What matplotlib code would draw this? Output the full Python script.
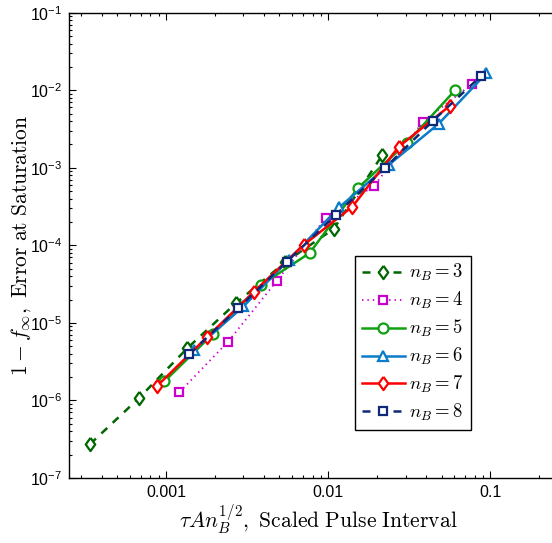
import matplotlib
matplotlib.use("Agg")
import matplotlib.pyplot as plt
from matplotlib.font_manager import FontProperties
from matplotlib.ticker import LogLocator, FixedLocator, FixedFormatter, NullFormatter

plt.rcParams['font.family'] = ['Liberation Sans', 'DejaVu Sans']
plt.rcParams['mathtext.fontset'] = 'custom'
plt.rcParams['mathtext.rm'] = 'Liberation Sans'
plt.rcParams['mathtext.it'] = 'Liberation Sans:italic'
plt.rcParams['mathtext.bf'] = 'Liberation Sans:bold'

# ---- data ----
n3_x = [3.4e-4, 6.8e-4, 1.35e-3, 2.7e-3, 5.45e-3, 0.0108, 0.0216]
n3_y = [2.74e-7, 1.07e-6, 4.7e-6, 1.8e-5, 6.1e-5, 1.63e-4, 1.47e-3]

n4_x = [1.21e-3, 2.4e-3, 4.82e-3, 9.68e-3, 0.0192, 0.0385, 0.077]
n4_y = [1.28e-6, 5.66e-6, 3.48e-5, 2.28e-4, 5.85e-4, 3.94e-3, 0.01205]

n5_x = [9.76e-4, 1.94e-3, 3.86e-3, 7.67e-3, 0.0152, 0.0306, 0.0608]
n5_y = [1.76e-6, 7.18e-6, 3.1e-5, 7.94e-5, 5.46e-4, 2.11e-3, 0.0101]

n6_x = [1.49e-3, 3.0e-3, 5.69e-3, 0.0117, 0.0236, 0.048, 0.0944]
n6_y = [4.5e-6, 1.63e-5, 6.5e-5, 3.1e-4, 1.09e-3, 3.7e-3, 0.01655]

n7_x = [8.84e-4, 1.78e-3, 3.49e-3, 7.05e-3, 0.0141, 0.0272, 0.0561]
n7_y = [1.55e-6, 6.49e-6, 2.54e-5, 1.01e-4, 3.16e-4, 1.87e-3, 6.28e-3]

n8_x = [1.39e-3, 2.79e-3, 5.56e-3, 0.01115, 0.0223, 0.0441, 0.0879]
n8_y = [3.96e-6, 1.55e-5, 6.18e-5, 2.47e-4, 9.88e-4, 4.02e-3, 0.0154]

labels = [r"$n_B = 3$", r"$n_B = 4$", r"$n_B = 5$", r"$n_B = 6$", r"$n_B = 7$", r"$n_B = 8$"]
x_ticks = [0.001, 0.01, 0.1]
x_ticklabels = ["0.001", "0.01", "0.1"]
y_ticks = [1e-7, 1e-6, 1e-5, 1e-4, 1e-3, 1e-2, 1e-1]
y_ticklabels = [r"$10^{-7}$", r"$10^{-6}$", r"$10^{-5}$", r"$10^{-4}$", r"$10^{-3}$", r"$10^{-2}$", r"$10^{-1}$"]

fig = plt.figure(figsize=(5.52, 5.43), dpi=100)
ax = fig.add_axes([0.125, 0.1197, 0.9036, 0.8569])

diamond = [(0, 1), (0.72, 0), (0, -1), (-0.72, 0), (0, 1)]
lw = 1.8
mew = 1.6

ax.plot(n3_x, n3_y, color='#006600', ls=(0, (3.2, 3.0)), lw=lw, marker=diamond, ms=9.5,
        mfc='white', mec='#006600', mew=mew, label=labels[0])
ax.plot(n4_x, n4_y, color='#CC00CC', ls=(0, (0.8, 2.2)), lw=1.3, marker='s', ms=6,
        mfc='white', mec='#CC00CC', mew=mew, label=labels[1])
ax.plot(n5_x, n5_y, color='#11A011', ls='-', lw=lw, marker='o', ms=7.2,
        mfc='white', mec='#11A011', mew=mew, label=labels[2])
ax.plot(n6_x, n6_y, color='#0A7CC8', ls='-', lw=lw, marker='^', ms=7.8,
        mfc='white', mec='#0A7CC8', mew=mew, label=labels[3])
ax.plot(n7_x, n7_y, color='#FF0000', ls='-', lw=lw, marker=diamond, ms=9.5,
        mfc='white', mec='#FF0000', mew=mew, label=labels[4])
ax.plot(n8_x, n8_y, color='#102878', ls=(0, (3.2, 3.0)), lw=lw, marker='s', ms=6,
        mfc='white', mec='#102878', mew=mew, label=labels[5])

ax.set_xscale('log')
ax.set_yscale('log')
ax.set_xlim(2.52e-4, 0.3)
ax.set_ylim(1e-7, 1e-1)

ax.xaxis.set_major_locator(FixedLocator(x_ticks))
ax.xaxis.set_major_formatter(FixedFormatter(x_ticklabels))
ax.xaxis.set_minor_locator(LogLocator(base=10, subs=range(2, 10), numticks=20))
ax.xaxis.set_minor_formatter(NullFormatter())
ax.yaxis.set_major_locator(FixedLocator(y_ticks))
ax.yaxis.set_major_formatter(FixedFormatter(y_ticklabels))
ax.yaxis.set_minor_locator(LogLocator(base=10, subs=range(2, 10), numticks=20))
ax.yaxis.set_minor_formatter(NullFormatter())

ax.tick_params(which='both', direction='in', top=True, right=True, labelsize=11.5,
               width=0.8, colors='black')
ax.tick_params(which='major', length=5, pad=5)
ax.tick_params(which='minor', length=2.5)
for s in ax.spines.values():
    s.set_linewidth(1.0)

lab_fp = FontProperties(family='DejaVu Serif', size=15.5, math_fontfamily='cm')
ax.set_xlabel(r"$\tau A n_B^{1/2}\mathrm{,\ Scaled\ Pulse\ Interval}$", fontproperties=lab_fp, labelpad=2)
ax.set_ylabel(r"$1 - f_{\infty}\mathrm{,\ Error\ at\ Saturation}$", fontproperties=lab_fp, labelpad=-2)

leg_fp = FontProperties(family='DejaVu Serif', size=13.5, math_fontfamily='cm')
leg = ax.legend(loc='upper left', bbox_to_anchor=(0.5734, 0.4778), borderaxespad=0,
                prop=leg_fp, numpoints=1, handlelength=2.3, handletextpad=0.25,
                labelspacing=0.36, borderpad=0.35, fancybox=False, framealpha=1,
                edgecolor='black')
leg.get_frame().set_linewidth(1.0)

fig.savefig('out.png', dpi=100)
